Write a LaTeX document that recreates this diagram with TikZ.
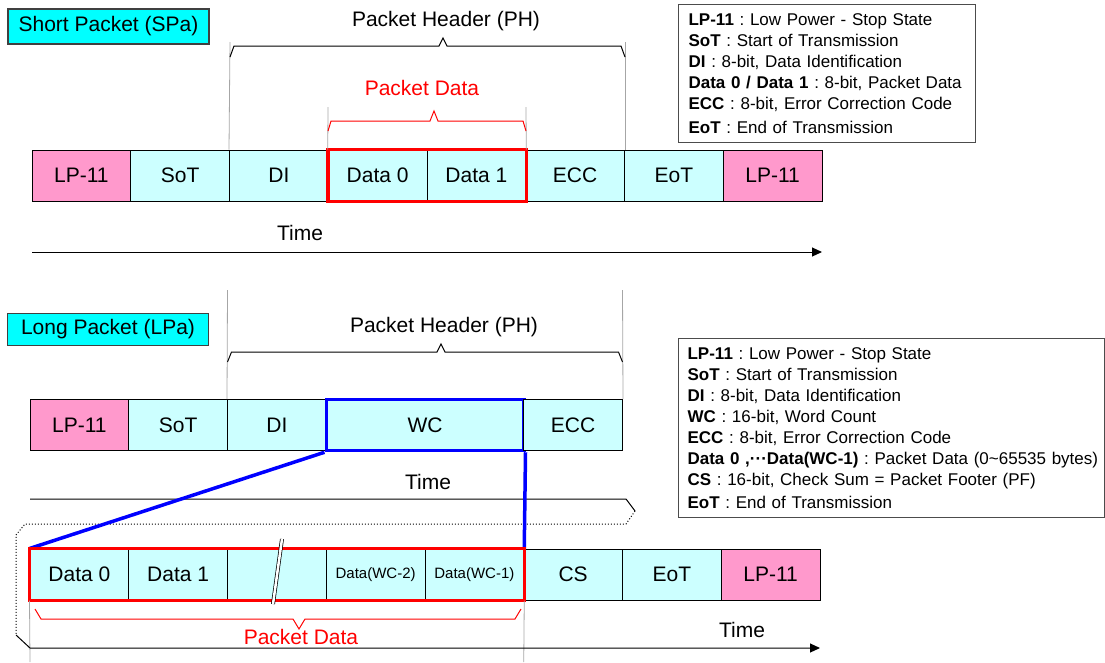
\documentclass[tikz,border=0pt]{standalone}
\usepackage{fontspec}
\setmainfont{Liberation Sans}
\usetikzlibrary{arrows.meta}
\frenchspacing

\definecolor{cellcyan}{HTML}{CCFFFF}
\definecolor{lppink}{HTML}{FF99CC}
\definecolor{titlecyan}{HTML}{00FFFF}
\definecolor{guidegray}{HTML}{A6A6A6}

\tikzset{
  cell/.style={draw, fill=cellcyan, line width=1pt, minimum width=98.75pt, minimum height=51pt, inner sep=0pt, font=\fontsize{21}{25}\selectfont},
  lpcell/.style={cell, fill=lppink},
  wccell/.style={cell, draw=blue, line width=3.5pt, minimum width=197.5pt},
  smalltext/.style={font=\fontsize{15}{18}\selectfont},
  pktname/.style={draw=black!75, fill=titlecyan, line width=1.2pt, minimum width=201pt, minimum height=34pt, inner sep=0pt, font=\fontsize{21}{25}\selectfont},
  heading/.style={inner sep=0pt, font=\fontsize{21}{25}\selectfont},
  legendbox/.style={draw=black!70, line width=1.2pt, anchor=north west, align=left, inner xsep=10pt, inner ysep=0pt, font=\fontsize{17}{21}\selectfont},
  guideline/.style={guidegray, line width=0.8pt},
  timeline/.style={line width=1pt, -{Triangle[length=10pt,width=9pt]}},
  redbox/.style={red, line width=3.5pt},
  bluebox/.style={blue, line width=3.5pt},
}

\begin{document}
\begin{tikzpicture}[x=1pt, y=-1pt]
  \useasboundingbox (0,0) rectangle (1105,662);

  % Short packet
  \node[pktname, minimum height=35pt] (spa) at (108.5,26.5) {Short Packet (SPa)};
  \node[heading] (ph1) at (446,21) {Packet Header (PH)};
  \node[heading, red] (pd1) at (422,88) {Packet Data};

  \node[lpcell] (slp)  at (81.375,175.5)  {LP-11};
  \node[cell]   (ssot) at (180.125,175.5) {SoT};
  \node[cell]   (sdi)  at (278.875,175.5) {DI};
  \node[cell]   (sd0)  at (377.625,175.5) {Data 0};
  \node[cell]   (sd1)  at (476.375,175.5) {Data 1};
  \node[cell]   (secc) at (575.125,175.5) {ECC};
  \node[cell]   (seot) at (673.875,175.5) {EoT};
  \node[lpcell] (slpe) at (772.625,175.5) {LP-11};
  \draw[redbox] (sd0.north west) rectangle (sd1.south east);

  % Header and data braces
  \draw[guideline] (230,42) -- (sdi.north west);
  \draw[guideline] (625,42) -- (secc.north east);
  \draw[guideline] (328,107) -- (sd0.north west);
  \draw[guideline] (526,107) -- (sd1.north east);
  \draw[line width=1pt] (230,57) -- (234,46) -- (439,46) -- (443,38) -- (447,46) -- (621,46) -- (625,57);
  \draw[red, line width=1pt] (328,131) -- (331,121) -- (430,121) -- (434,111) -- (438,121) -- (523,121) -- (526,131);

  % Time axis
  \node[heading] (t1) at (300,233) {Time};
  \coordinate (t1a) at (32,252);
  \coordinate (t1b) at (822,252);
  \draw[timeline] (t1a) -- (t1b);

  % Legend
  \node[legendbox, text width=277pt, minimum height=138pt] (leg1) at (678,4) {%
    \textbf{LP-11} : Low Power - Stop State\\
    \textbf{SoT} : Start of Transmission\\
    \textbf{DI} : 8-bit, Data Identification\\
    \textbf{Data 0 / Data 1} : 8-bit, Packet Data\\
    \textbf{ECC} : 8-bit, Error Correction Code\\[3pt]
    \textbf{EoT} : End of Transmission};

  % Long packet
  \node[pktname, minimum height=32pt] (lpa) at (108,329.5) {Long Packet (LPa)};
  \node[heading] (ph2) at (444,327) {Packet Header (PH)};

  \node[lpcell] (llp)  at (79.375,425)  {LP-11};
  \node[cell]   (lsot) at (178.125,425) {SoT};
  \node[cell]   (ldi)  at (276.875,425) {DI};
  \node[wccell] (lwc)  at (425,425)     {WC};
  \node[cell]   (lecc) at (573.125,425) {ECC};

  \draw[guideline] (227.5,290) -- (ldi.north west);
  \draw[guideline] (622.5,290) -- (lecc.north east);
  \draw[line width=1pt] (227.5,362) -- (231.5,352) -- (437,352) -- (441,344) -- (445,352) -- (618.5,352) -- (622.5,362);

  \node[legendbox, inner xsep=9pt, text width=408pt, minimum height=179pt] (leg2) at (678,338) {%
    \textbf{LP-11} : Low Power - Stop State\\
    \textbf{SoT} : Start of Transmission\\
    \textbf{DI} : 8-bit, Data Identification\\
    \textbf{WC} : 16-bit, Word Count\\
    \textbf{ECC} : 8-bit, Error Correction Code\\
    \mbox{\textbf{Data 0 ,···Data(WC-1)} : Packet Data (0\textasciitilde 65535 bytes)}\\
    \textbf{CS} : 16-bit, Check Sum = Packet Footer (PF)\\[2pt]
    \textbf{EoT} : End of Transmission};

  % Broken time axis
  \node[heading] (t2) at (428,482) {Time};
  \draw[line width=1pt] (30,499) -- (626,499) -- (635,511);
  \draw[dotted, line width=1pt] (635,511) -- (626,524) -- (25,524) -- (16,535) -- (16,635);

  % Payload
  \node[cell] (bd0)  at (79.375,574.5)  {Data 0};
  \node[cell] (bd1)  at (178.125,574.5) {Data 1};
  \node[cell] (bgap) at (276.875,574.5) {};
  \node[cell, smalltext] (bwc2) at (375.625,574.5) {Data(WC-2)};
  \node[cell, smalltext] (bwc1) at (474.375,574.5) {Data(WC-1)};
  \node[cell]   (bcs)  at (573.125,574.5) {CS};
  \node[cell]   (beot) at (671.875,574.5) {EoT};
  \node[lpcell] (blp)  at (770.625,574.5) {LP-11};

  \draw[bluebox] (lwc.south west) -- (bd0.north west);
  \draw[bluebox] (lwc.south east) -- (bwc1.north east);
  \draw[redbox] (bd0.north west) rectangle (bwc1.south east);
  \draw[line width=0.7pt, double=white, double distance=2.5pt] (273,604) -- (282,539);

  \draw[guideline] (bd0.south west) -- (30,662);
  \draw[guideline] (bwc1.south east) -- (523.75,662);
  \draw[red, line width=1pt] (35,609) -- (41,619) -- (293,619) -- (299,629) -- (305,619) -- (515,619) -- (521,609);
  \node[heading, red] (pd2) at (301,637) {Packet Data};

  \node[heading] (t3) at (742,630) {Time};
  \coordinate (t3a) at (16,635);
  \coordinate (t3b) at (820,648);
  \draw[timeline] (t3a) -- (30,648) -- (t3b);
\end{tikzpicture}
\end{document}
